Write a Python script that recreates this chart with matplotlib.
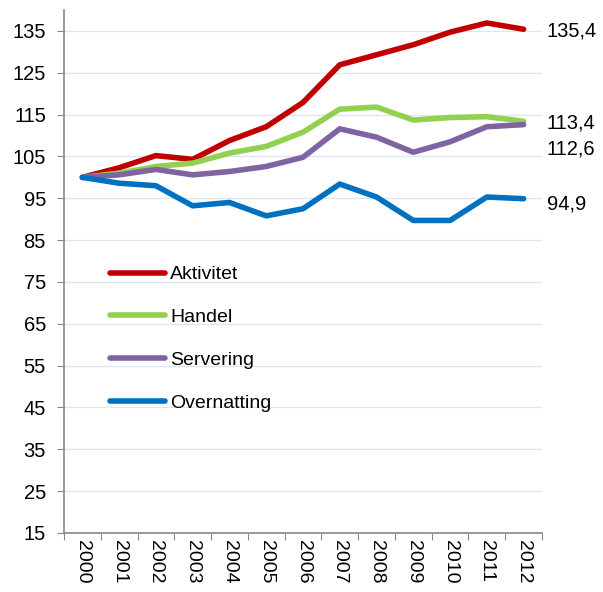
import numpy as np
import matplotlib.pyplot as plt

# Indeks, 2000 = 100
years = list(range(2000, 2013))
aktivitet = [100, 102.3, 105.2, 104.3, 108.8, 112.1, 117.9, 126.9, 129.3, 131.7, 134.7, 136.9, 135.4]
handel = [100, 101.0, 102.6, 103.4, 105.8, 107.4, 110.8, 116.3, 116.8, 113.7, 114.3, 114.5, 113.4]
servering = [100, 100.6, 101.9, 100.6, 101.4, 102.6, 104.8, 111.6, 109.6, 106.0, 108.5, 112.1, 112.6]
overnatting = [100, 98.6, 98.0, 93.2, 94.0, 90.8, 92.5, 98.4, 95.3, 89.7, 89.7, 95.3, 94.9]

serier = [
    ("Aktivitet", aktivitet, "#c00000"),
    ("Handel", handel, "#92d050"),
    ("Servering", servering, "#8064a2"),
    ("Overnatting", overnatting, "#0070c0"),
]
endeverdier = ["135,4", "113,4", "112,6", "94,9"]
# vertikal forskyvning (punkter) så etikettene ikke overlapper
forskyvning = [-1.5, -1.5, -17.5, -3.5]

plt.rcParams["font.family"] = ["Liberation Sans", "DejaVu Sans"]

fig = plt.figure(figsize=(6.03, 5.92), dpi=100)
ax = fig.add_axes([64 / 603, 1 - 533 / 592, (542 - 64) / 603, (533 - 10) / 592])

x = np.arange(len(years))
for navn, verdier, farge in serier:
    ax.plot(x, verdier, color=farge, lw=4, label=navn, solid_capstyle="round",
            solid_joinstyle="round")

# Verdier ved siste punkt, til høyre for plottet
for (navn, verdier, farge), tekst, dy in zip(serier, endeverdier, forskyvning):
    ax.annotate(tekst, xy=(1.0, verdier[-1]), xycoords=("axes fraction", "data"),
                xytext=(3.6, dy), textcoords="offset points", va="center", ha="left",
                fontsize=14.5, annotation_clip=False)

ax.set_xlim(-0.5, len(years) - 0.5)
ax.set_ylim(15, 140)
ax.set_yticks(np.arange(15, 136, 10))
ax.set_xticks(np.arange(-0.5, len(years), 1), minor=False)
ax.set_xticklabels([])
ax.set_xticks(x, minor=True)
ax.set_xticklabels([str(a) for a in years], minor=True, rotation=-90, fontsize=14)
ax.tick_params(axis="x", which="minor", length=0, pad=5)
ax.tick_params(axis="x", which="major", length=5, color="#888888")
ax.tick_params(axis="y", length=5, color="#888888", labelsize=14.5, pad=8)

ax.grid(axis="y", color="#dce6f2", lw=1)
ax.set_axisbelow(True)
for s in ["top", "right"]:
    ax.spines[s].set_visible(False)
for s in ["left", "bottom"]:
    ax.spines[s].set_color("#888888")
    ax.spines[s].set_linewidth(1.2)

ax.legend(loc="upper left", bbox_to_anchor=(0.096, 0.511), frameon=False, fontsize=14,
          handlelength=2.85, labelspacing=1.3, handletextpad=0.25,
          borderpad=0, borderaxespad=0)

fig.savefig("out.png", dpi=100)
